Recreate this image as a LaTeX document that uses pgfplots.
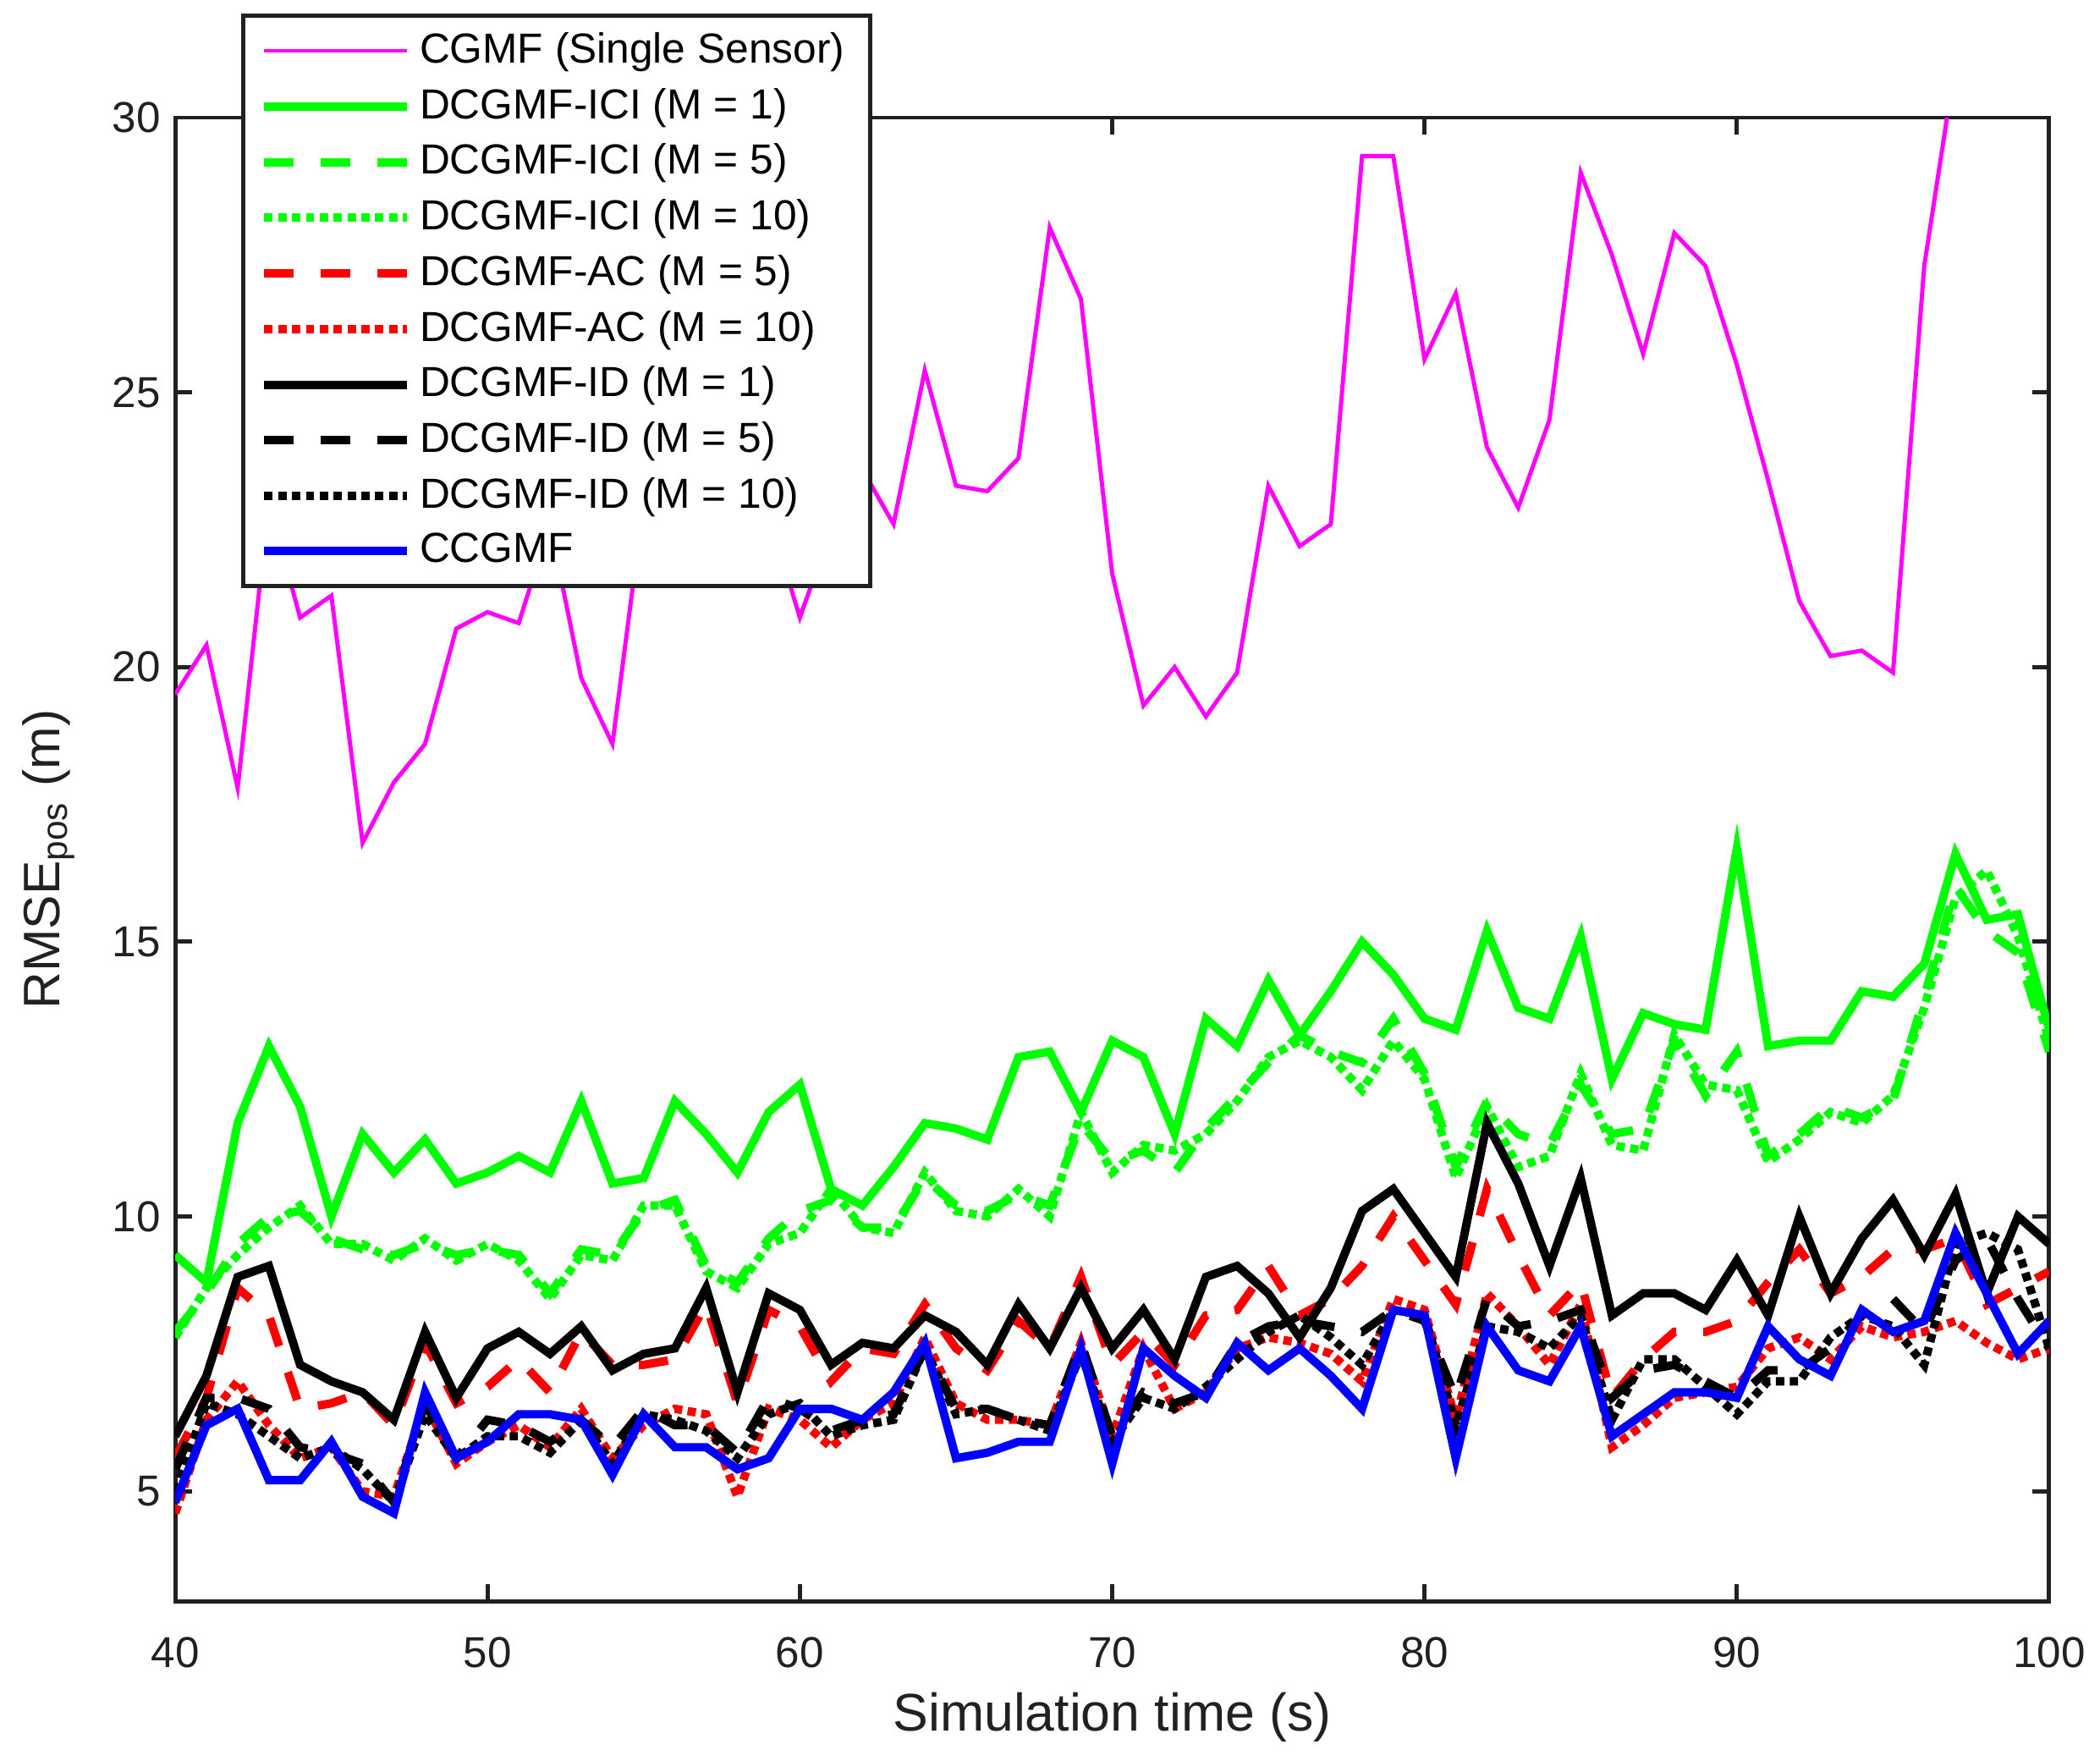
\documentclass[border=0pt]{standalone}
\usepackage{pgfplots}
\pgfplotsset{compat=1.18}
\usepackage{pgfplotstable}
\usepackage{fontspec}
\setmainfont{Liberation Sans}
\pgfplotstableread{
x cgmf ici1 ici5 ici10 ac5 ac10 id1 id5 id10 cc
40 19.5 9.3 7.9 7.8 5.6 4.6 6.0 5.4 5.0 4.8
41 20.4 8.8 8.6 8.7 6.7 6.3 7.1 6.7 6.6 6.2
42 17.8 11.7 9.5 9.3 8.7 7.0 8.9 6.7 6.4 6.5
43 23.0 13.1 10.0 9.8 8.2 6.2 9.1 6.5 6.0 5.2
44 20.9 12.0 10.1 10.2 6.5 5.6 7.3 5.8 5.6 5.2
45 21.3 10.0 9.6 9.5 6.6 5.8 7.0 5.7 5.8 5.9
46 16.8 11.5 9.4 9.5 6.8 5.0 6.8 5.5 5.4 4.9
47 17.9 10.8 9.3 9.2 6.2 4.9 6.3 4.8 4.8 4.6
48 18.6 11.4 9.5 9.6 7.7 6.6 7.9 6.6 6.4 6.8
49 20.7 10.6 9.3 9.2 6.6 5.5 6.7 5.6 5.6 5.6
50 21.0 10.8 9.4 9.5 6.9 5.9 7.6 6.3 6.0 5.9
51 20.8 11.1 9.3 9.2 7.4 6.2 7.9 6.2 6.0 6.4
52 22.6 10.8 8.6 8.5 6.8 5.8 7.5 5.9 5.7 6.4
53 19.8 12.1 9.4 9.3 7.9 6.5 8.0 6.3 6.3 6.3
54 18.6 10.6 9.3 9.2 7.3 5.6 7.2 5.8 5.5 5.3
55 23.0 10.7 10.1 10.2 7.3 6.2 7.5 6.5 6.4 6.4
56 22.5 12.1 10.3 10.2 7.4 6.5 7.6 6.2 6.3 5.8
57 23.5 11.5 9.1 9.0 8.4 6.4 8.7 6.2 6.1 5.8
58 24.0 10.8 8.8 8.7 6.6 4.9 6.8 5.7 5.6 5.4
59 22.8 11.9 9.6 9.5 8.3 6.5 8.6 6.7 6.4 5.6
60 20.9 12.4 10.1 9.7 8.0 6.3 8.3 6.5 6.6 6.5
61 22.5 10.5 10.3 10.5 7.0 5.8 7.3 6.1 6.0 6.5
62 23.6 10.2 9.8 9.8 7.6 6.3 7.7 6.3 6.2 6.3
63 22.6 10.9 9.8 9.7 7.5 6.6 7.6 6.4 6.3 6.8
64 25.4 11.7 10.7 10.8 8.4 7.8 8.2 7.6 7.6 7.7
65 23.3 11.6 10.2 10.1 7.6 6.6 7.9 6.5 6.4 5.6
66 23.2 11.4 10.1 10.0 7.2 6.3 7.3 6.5 6.5 5.7
67 23.8 12.9 10.4 10.5 8.1 6.3 8.4 6.3 6.3 5.9
68 28.0 13.0 10.2 10.0 7.6 6.2 7.6 6.2 6.1 5.9
69 26.7 11.9 11.7 11.9 8.9 7.7 8.7 7.7 7.5 7.6
70 21.7 13.2 11.0 10.8 7.3 6.0 7.6 6.0 5.9 5.5
71 19.3 12.9 11.2 11.3 7.9 7.6 8.3 6.8 6.7 7.6
72 20.0 11.5 10.8 11.2 7.3 6.5 7.4 6.6 6.5 7.1
73 19.1 13.6 11.6 11.5 8.2 6.8 8.9 6.8 6.9 6.7
74 19.9 13.1 12.2 12.1 8.3 7.6 9.1 7.7 7.4 7.7
75 23.3 14.3 12.8 12.9 9.1 7.8 8.6 8.0 7.9 7.2
76 22.2 13.3 13.3 13.2 8.2 7.7 7.8 8.1 8.2 7.6
77 22.6 14.1 13.0 12.9 8.5 7.5 8.7 8.0 7.8 7.1
78 29.3 15.0 12.8 12.3 9.1 7.0 10.1 7.9 7.3 6.5
79 29.3 14.4 13.6 13.2 10.0 8.5 10.5 8.3 8.3 8.3
80 25.6 13.6 12.6 12.5 9.2 8.3 9.7 8.1 8.2 8.2
81 26.8 13.4 10.9 10.7 8.4 6.3 8.9 6.7 6.2 5.6
82 24.0 15.2 12.1 12.0 10.5 8.6 11.7 8.5 8.0 8.0
83 22.9 13.8 11.5 10.9 9.3 8.0 10.6 8.0 7.9 7.2
84 24.5 13.6 11.3 11.1 8.2 7.3 9.1 8.1 7.6 7.0
85 29.0 15.1 12.4 12.6 8.8 8.4 10.7 8.3 8.2 8.0
86 27.5 12.5 11.5 11.3 6.7 5.8 8.2 6.7 6.3 6.0
87 25.7 13.7 11.6 11.2 7.4 6.2 8.6 7.2 7.4 6.4
88 27.9 13.5 13.2 13.3 7.9 6.7 8.6 7.3 7.4 6.8
89 27.3 13.4 12.2 12.4 7.9 6.8 8.3 7.0 6.9 6.8
90 25.5 16.7 13.0 12.3 8.1 6.9 9.2 6.7 6.4 6.7
91 23.4 13.1 11.1 11.0 8.8 7.6 8.2 7.2 7.0 8.0
92 21.2 13.2 11.5 11.4 9.4 7.8 10.0 7.2 7.0 7.4
93 20.2 13.2 12.0 11.9 8.6 7.4 8.6 7.6 7.8 7.1
94 20.3 14.1 11.8 11.7 8.9 8.0 9.6 8.2 8.2 8.3
95 19.9 14.0 12.1 12.2 9.4 7.8 10.3 8.5 8.0 7.9
96 27.3 14.6 14.0 13.8 9.4 7.9 9.3 7.9 7.3 8.1
97 31.0 16.6 16.0 15.8 9.6 8.1 10.4 9.2 9.5 9.7
98 32.0 15.4 15.2 16.3 8.4 7.7 8.6 9.6 9.7 8.6
99 31.0 15.5 14.8 15.1 8.7 7.4 10.0 8.5 9.4 7.5
100 32.0 13.4 13.0 13.2 9.0 7.6 9.5 7.6 7.6 8.1
}\data
\tikzset{
  mdash/.style={dash pattern=on 7pt off 6.5pt},
  mdot/.style={dash pattern=on 2pt off 1.3pt},
}
\begin{document}
\begin{tikzpicture}
\begin{axis}[
  name=main,
  scale only axis,
  width=446pt, height=353pt,
  xmin=40, xmax=100, ymin=3, ymax=30,
  xtick={40,50,...,100}, ytick={5,10,...,30},
  tick align=inside,
  major tick length=4pt,
  axis line style={line width=1pt, black!87},
  every tick/.style={line width=1pt, black!87},
  tick label style={font=\fontsize{10.3}{12}\selectfont, black!87},
  xticklabel style={yshift=-5pt},
  /pgf/number format/assume math mode=true,
  xlabel={Simulation time (s)},
  ylabel={RMSE\textsubscript{pos} (m)},
  xlabel style={font=\fontsize{12.6}{14}\selectfont, black!87, yshift=1pt},
  ylabel style={font=\fontsize{12.2}{14}\selectfont, black!87, yshift=2pt},
  legend cell align=left,
  legend style={at={(axis description cs:0.0352,1.0702)}, anchor=north west,
    draw=black!87, line width=1pt, fill=white,
    font=\fontsize{10}{12}\selectfont,
    inner xsep=4pt, inner ysep=2pt,
    row sep=0.5pt},
  legend image code/.code={\draw[#1, line cap=butt] plot coordinates {(0pt,0pt) (17pt,0pt) (34pt,0pt)};},
  every axis plot/.append style={line join=miter, line cap=butt},
]
\addplot[color={rgb,1:red,1;green,0;blue,1}, line width=1pt] table[x=x,y=cgmf]{\data};
\addlegendentry{CGMF (Single Sensor)}
\addplot[color={rgb,1:red,0;green,1;blue,0}, line width=2pt] table[x=x,y=ici1]{\data};
\addlegendentry{DCGMF-ICI (M = 1)}
\addplot[color={rgb,1:red,0;green,1;blue,0}, line width=2pt, mdash] table[x=x,y=ici5]{\data};
\addlegendentry{DCGMF-ICI (M = 5)}
\addplot[color={rgb,1:red,0;green,1;blue,0}, line width=2pt, mdot] table[x=x,y=ici10]{\data};
\addlegendentry{DCGMF-ICI (M = 10)}
\addplot[color=red, line width=2pt, mdash] table[x=x,y=ac5]{\data};
\addlegendentry{DCGMF-AC (M = 5)}
\addplot[color=red, line width=2pt, mdot] table[x=x,y=ac10]{\data};
\addlegendentry{DCGMF-AC (M = 10)}
\addplot[color=black, line width=2pt] table[x=x,y=id1]{\data};
\addlegendentry{DCGMF-ID (M = 1)}
\addplot[color=black, line width=2pt, mdash] table[x=x,y=id5]{\data};
\addlegendentry{DCGMF-ID (M = 5)}
\addplot[color=black, line width=2pt, mdot] table[x=x,y=id10]{\data};
\addlegendentry{DCGMF-ID (M = 10)}
\addplot[color=blue, line width=2pt] table[x=x,y=cc]{\data};
\addlegendentry{CCGMF}
\end{axis}
\path (main.south west) ++(-41.7pt,-37.9pt) coordinate (bbA);
\path (main.north east) ++(12.1pt,28pt) coordinate (bbB);
\path (bbA) (bbB);
\end{tikzpicture}
\end{document}
